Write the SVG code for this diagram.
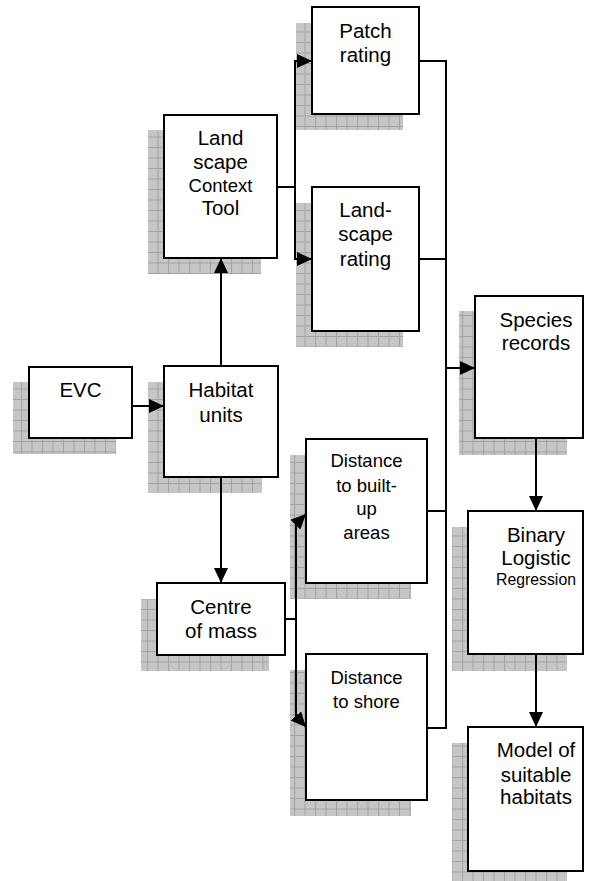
<svg xmlns="http://www.w3.org/2000/svg" width="605" height="881" viewBox="0 0 605 881">
<style>
.box{fill:#fff;stroke:#000;stroke-width:2}
.sh{fill:url(#grid)}
.t{font-family:"Liberation Sans",Arial,sans-serif;font-size:20.5px;fill:#000;text-anchor:middle}
.s{font-size:18.5px}
.r{font-size:15.8px}
.c{fill:none;stroke:#000;stroke-width:2}
</style>
<defs>
<pattern id="grid" patternUnits="userSpaceOnUse" width="10.5" height="10.5">
<rect width="10.5" height="10.5" fill="#c6c6c6"/>
<path d="M0,0.5H10.5M0.5,0V10.5" stroke="#a2a2a2" stroke-width="1"/>
</pattern>
<marker id="ah" markerUnits="userSpaceOnUse" markerWidth="16" markerHeight="14" refX="15" refY="7" orient="auto">
<path d="M0,0L15,7L0,14z" fill="#000"/>
</marker>
</defs>
<rect width="605" height="881" fill="#fff"/>
<g id="evc"><rect class="sh" x="13" y="382" width="103" height="72"/><rect class="box" x="29" y="367" width="103" height="71"/><text class="t" x="80.5" y="397">EVC</text></g>
<g id="habitat"><rect class="sh" x="148" y="382" width="114" height="111"/><rect class="box" x="164" y="366" width="114" height="111"/><text class="t" x="221" y="397">Habitat</text><text class="t" x="221" y="422">units</text></g>
<g id="lct"><rect class="sh" x="148" y="130" width="113" height="144"/><rect class="box" x="164" y="115" width="113" height="143"/><text class="t" x="220.5" y="145">Land</text><text class="t" x="220.5" y="168.5">scape</text><text class="t s" x="220.5" y="191.5">Context</text><text class="t" x="220.5" y="215">Tool</text></g>
<g id="patch"><rect class="sh" x="296" y="23" width="107" height="107"/><rect class="box" x="312" y="7" width="107" height="107"/><text class="t" x="365.5" y="37.5">Patch</text><text class="t" x="365.5" y="61.5">rating</text></g>
<g id="lsr"><rect class="sh" x="296" y="203" width="107" height="144"/><rect class="box" x="312" y="187" width="107" height="144"/><text class="t" x="365.5" y="216.5">Land-</text><text class="t" x="365.5" y="241">scape</text><text class="t" x="365.5" y="265.5">rating</text></g>
<g id="species"><rect class="sh" x="459" y="311" width="108" height="144"/><rect class="box" x="475" y="296" width="108" height="142"/><text class="t" x="536" y="326.5">Species</text><text class="t" x="536" y="350">records</text></g>
<g id="builtup"><rect class="sh" x="290" y="455" width="121" height="144"/><rect class="box" x="306" y="439" width="121" height="144"/><text class="t s" x="366.5" y="466.5">Distance</text><text class="t s" x="366.5" y="491.5">to built-</text><text class="t s" x="366.5" y="515">up</text><text class="t s" x="366.5" y="539">areas</text></g>
<g id="centre"><rect class="sh" x="141" y="599" width="128" height="72"/><rect class="box" x="157" y="583" width="128" height="72"/><text class="t" x="221" y="613.5">Centre</text><text class="t" x="221" y="637.5">of mass</text></g>
<g id="shore"><rect class="sh" x="290" y="670" width="121" height="146"/><rect class="box" x="306" y="654" width="121" height="146"/><text class="t s" x="366.5" y="683.5">Distance</text><text class="t s" x="366.5" y="707.5">to shore</text></g>
<g id="blr"><rect class="sh" x="452" y="527" width="115" height="144"/><rect class="box" x="468" y="511" width="115" height="143"/><text class="t" x="536" y="541.5">Binary</text><text class="t" x="536" y="565">Logistic</text><text class="t r" x="536" y="585">Regression</text></g>
<g id="model"><rect class="sh" x="452" y="743" width="115" height="144"/><rect class="box" x="468" y="727" width="115" height="144"/><text class="t" x="536" y="756.5">Model of</text><text class="t" x="536" y="781.5">suitable</text><text class="t" x="536" y="804">habitats</text></g>
<g id="connectors">
<path class="c" d="M132,406H164" marker-end="url(#ah)"/>
<path class="c" d="M221,366V258" marker-end="url(#ah)"/>
<path class="c" d="M277,187H295"/>
<path class="c" d="M295,187V61H312" marker-end="url(#ah)"/>
<path class="c" d="M295,187V259H312" marker-end="url(#ah)"/>
<path class="c" d="M221,477V583" marker-end="url(#ah)"/>
<path class="c" d="M285,619H296V524L306,514" marker-end="url(#ah)"/>
<path class="c" d="M296,619V716L306,727" marker-end="url(#ah)"/>
<path class="c" d="M419,61H446V728H427"/>
<path class="c" d="M419,259H446"/>
<path class="c" d="M427,511H446"/>
<path class="c" d="M446,368H475" marker-end="url(#ah)"/>
<path class="c" d="M536,438V511" marker-end="url(#ah)"/>
<path class="c" d="M536,654V727" marker-end="url(#ah)"/>
</g>
</svg>
